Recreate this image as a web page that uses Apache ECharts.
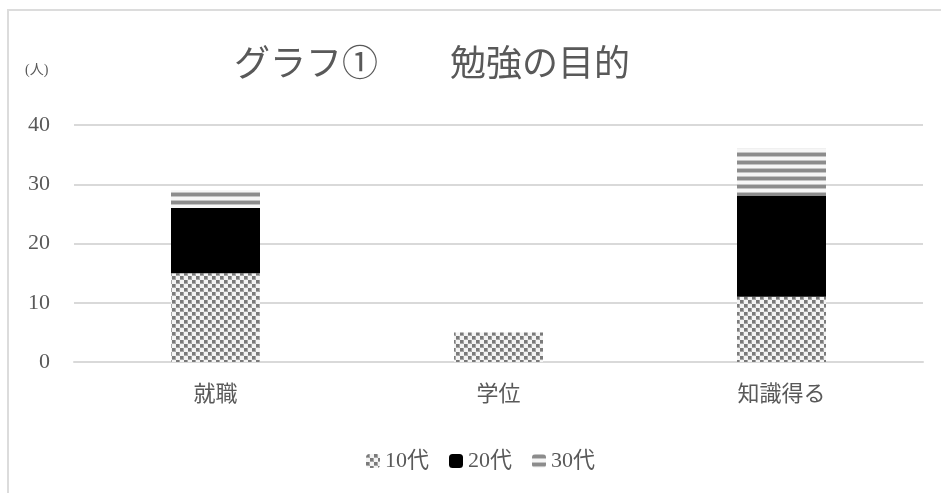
<!DOCTYPE html>
<html><head><meta charset="utf-8">
<script src="https://cdn.jsdelivr.net/npm/echarts@6/dist/echarts.min.js"></script>
<style>html,body{margin:0;padding:0;background:#fff}#c{width:941px;height:493px}</style>
</head><body><div id="c"></div>
<script>
const categories = ['就職', '学位', '知識得る'];
const teens = [15, 5, 11];
const twenties = [11, 0, 17];
const thirties = [3, 0, 8];
const seriesNames = ['10代', '20代', '30代'];
const yTicks = [0, 10, 20, 30, 40];

const FONT = '"Liberation Serif", "Noto Sans CJK JP", serif';
const TXT = '#595959';

function checker() {
  const c = document.createElement('canvas'); c.width = 8; c.height = 8;
  const g = c.getContext('2d');
  g.fillStyle = '#f4f4f4'; g.fillRect(0, 0, 8, 8);
  g.fillStyle = '#a6a6a6'; g.fillRect(0, 0, 4, 4); g.fillRect(4, 4, 4, 4);
  g.fillStyle = '#7a7a7a'; g.fillRect(0, 0, 3, 3); g.fillRect(4, 4, 3, 3);
  return c;
}
function stripes() {
  const c = document.createElement('canvas'); c.width = 8; c.height = 8;
  const g = c.getContext('2d');
  g.fillStyle = '#f6f6f6'; g.fillRect(0, 0, 8, 8);
  g.fillStyle = '#c4c4c4'; g.fillRect(0, 0, 8, 1); g.fillRect(0, 4, 8, 1);
  g.fillStyle = '#8c8c8c'; g.fillRect(0, 1, 8, 3);
  return c;
}
const checkerFill = { image: checker(), repeat: 'repeat' };
const stripeFill = { image: stripes(), repeat: 'repeat' };

const chart = echarts.init(document.getElementById('c'));
chart.setOption({
  animation: false,
  backgroundColor: '#ffffff',
  title: {
    text: 'グラフ①　　勉強の目的',
    left: 234, top: 49, padding: 0,
    textStyle: { fontFamily: FONT, fontSize: 36, fontWeight: 'normal', color: TXT }
  },
  graphic: [
    { type: 'rect', shape: { x: 8, y: 10, width: 1200, height: 1200 }, style: { fill: 'none', stroke: '#dcdcdc', lineWidth: 2 }, silent: true },
    { type: 'text', left: 25, top: 63, style: { text: '(人)', fontFamily: FONT, fontSize: 14, fill: TXT } }
  ],
  legend: {
    left: 361, top: 445,
    itemWidth: 14, itemHeight: 14, itemGap: 20,
    textStyle: { fontFamily: FONT, fontSize: 22, color: TXT },
    data: seriesNames
  },
  grid: { left: 74, right: 18, top: 125, bottom: 131, containLabel: false },
  xAxis: {
    type: 'category', data: categories,
    axisLine: { lineStyle: { color: '#d9d9d9', width: 2 } },
    axisTick: { show: false },
    axisLabel: { fontFamily: FONT, fontSize: 22, color: TXT, margin: 22 }
  },
  yAxis: {
    type: 'value', min: yTicks[0], max: yTicks[yTicks.length - 1], interval: 10,
    axisLine: { show: false }, axisTick: { show: false },
    splitLine: { lineStyle: { color: '#d9d9d9', width: 2 } },
    axisLabel: { fontFamily: FONT, fontSize: 22, color: TXT, margin: 24 }
  },
  series: [
    { name: seriesNames[0], type: 'bar', stack: 's', barWidth: 89, data: teens, itemStyle: { color: checkerFill } },
    { name: seriesNames[1], type: 'bar', stack: 's', barWidth: 89, data: twenties, itemStyle: { color: '#000000' } },
    { name: seriesNames[2], type: 'bar', stack: 's', barWidth: 89, data: thirties, itemStyle: { color: stripeFill } }
  ]
});
</script></body></html>
